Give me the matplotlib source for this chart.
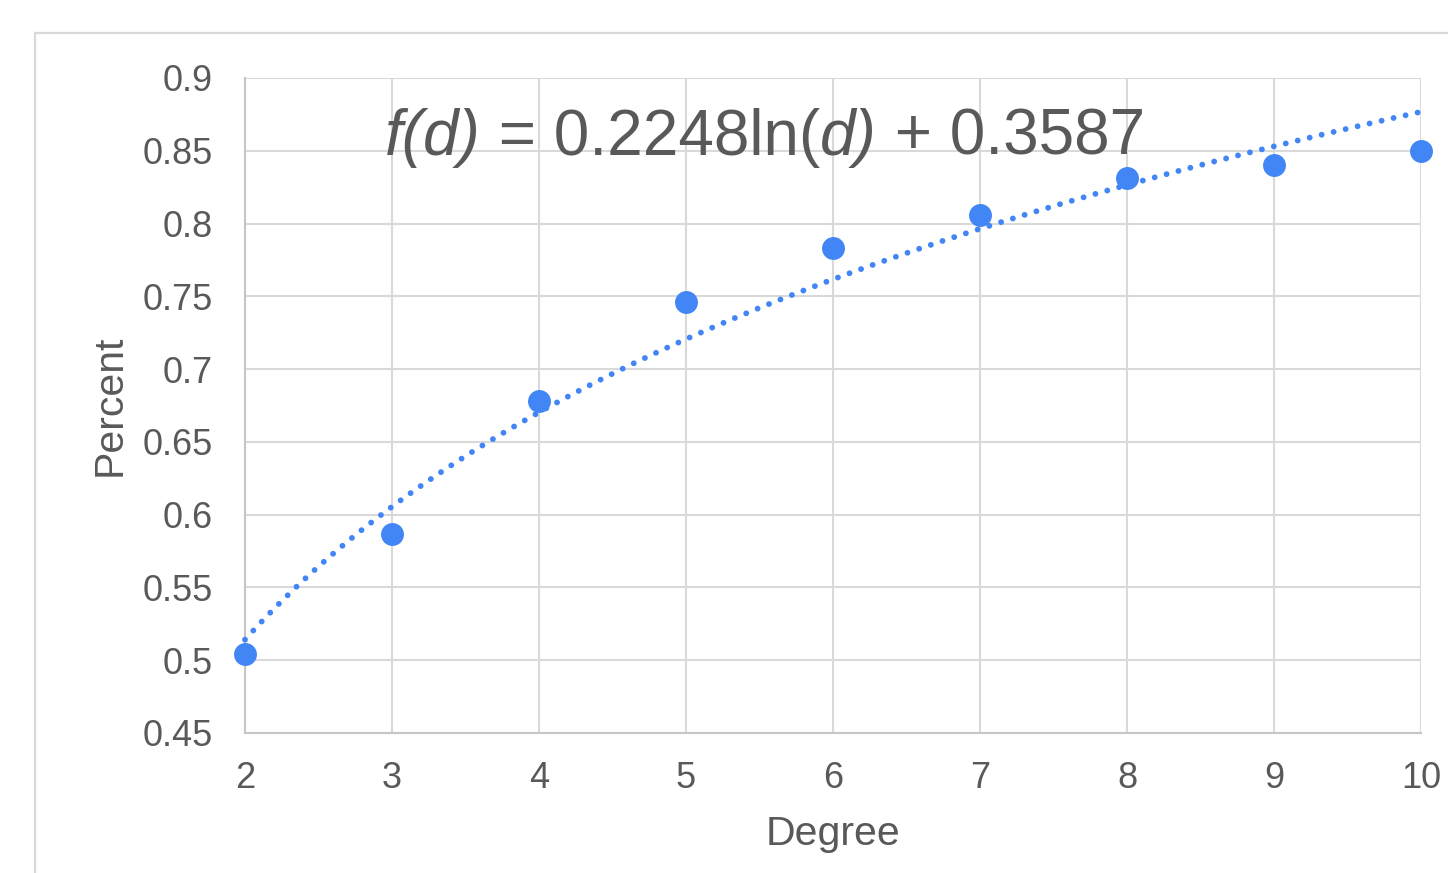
import numpy as np
import matplotlib
matplotlib.use("Agg")
import matplotlib.pyplot as plt
from matplotlib.patches import Rectangle

degree = [2, 3, 4, 5, 6, 7, 8, 9, 10]
percent = [0.504, 0.587, 0.678, 0.746, 0.783, 0.806, 0.831, 0.840, 0.850]
# equation pieces: (text, italic?)
equation_parts = [("f(d)", True), (" = 0.2248ln(", False), ("d)", True), (" + 0.3587", False)]
x_ticks = [2, 3, 4, 5, 6, 7, 8, 9, 10]
y_ticks = [0.45, 0.5, 0.55, 0.6, 0.65, 0.7, 0.75, 0.8, 0.85, 0.9]
y_tick_labels = ["0.45", "0.5", "0.55", "0.6", "0.65", "0.7", "0.75", "0.8", "0.85", "0.9"]

plt.rcParams['font.family'] = ['Liberation Sans', 'DejaVu Sans']

TEXT = '#595959'
GRID = '#d9d9d9'
BLUE = '#4285F4'

fig = plt.figure(figsize=(14.48, 8.73), dpi=100)
fig.patches.append(Rectangle((35/1448, -0.1), 1.2, 0.1 + 1 - 33/873,
                             transform=fig.transFigure, fill=False,
                             edgecolor=GRID, linewidth=1.6, zorder=0))
ax = fig.add_axes([245/1448, 1 - 733/873, (1421-245)/1448, (733-78)/873])

# trendline from log fit of the data
d = np.array(degree, dtype=float)
p = np.polyfit(np.log(d), np.array(percent), 1)
xs = np.linspace(2, 10, 400)
ax.plot(xs, p[0]*np.log(xs) + p[1], color=BLUE, lw=4.2,
        linestyle=(0, (0.01, 2.1)), dash_capstyle='round', zorder=3, clip_on=False)

ax.plot(degree, percent, 'o', color=BLUE, markersize=16.5, markeredgewidth=0,
        zorder=4, clip_on=False)

ax.set_xlim(2, 10)
ax.set_ylim(0.45, 0.9)
ax.set_xticks(x_ticks)
ax.set_yticks(y_ticks)
ax.set_yticklabels(y_tick_labels)
ax.grid(True, color=GRID, lw=1.5, zorder=0)
ax.set_axisbelow(True)
for s in ['top', 'right']:
    ax.spines[s].set_visible(False)
for s in ['left', 'bottom']:
    ax.spines[s].set_color('#c6c6c6')
    ax.spines[s].set_linewidth(1.5)
ax.tick_params(length=0, labelsize=26, labelcolor=TEXT)
ax.tick_params(axis='y', pad=23)
ax.tick_params(axis='x', pad=20)

ax.set_xlabel("Degree", fontsize=29.5, color=TEXT, labelpad=14)
ax.set_ylabel("Percent", fontsize=29.5, color=TEXT, labelpad=10)

prev = None
for txt, ital in equation_parts:
    style = 'italic' if ital else 'normal'
    if prev is None:
        prev = ax.text(2.952, 0.859, txt, fontsize=46, color=TEXT, style=style,
                       ha='left', va='center', zorder=5)
    else:
        prev = ax.annotate(txt, xy=(1, 0), xycoords=prev, fontsize=46, color=TEXT,
                           style=style, ha='left', va='bottom', zorder=5)

fig.savefig("out.png", dpi=100)
